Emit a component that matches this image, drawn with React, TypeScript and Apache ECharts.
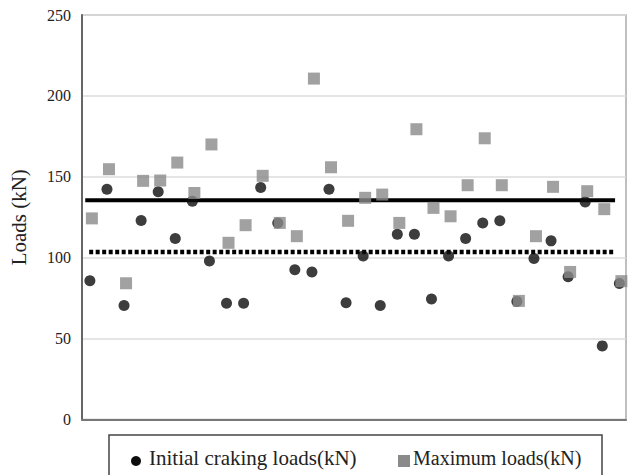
import React, { useEffect, useRef } from "react";
import * as echarts from "echarts";

const specimenIds = Array.from({ length: 32 }, (_, i) => i + 1);
const initialCracking = [85.7, 142.3, 70.5, 123, 140.7, 111.9, 134.9, 98, 71.9, 71.9, 143.4, 121.5, 92.5, 91.2, 142.3, 72.1, 101.1, 70.5, 114.5, 114.5, 74.5, 101.1, 111.9, 121.5, 122.8, 73, 99.5, 110.4, 88.2, 134.5, 45.5, 84];
const maximumLoads = [124.3, 154.7, 84.2, 147.5, 147.7, 158.8, 140, 170, 109.2, 120.1, 150.6, 121.5, 113.3, 210.7, 155.9, 122.8, 137, 139, 121.5, 179.4, 130.8, 125.6, 144.8, 173.8, 144.8, 73.3, 113.3, 143.8, 91.2, 141.1, 130, 85.5];
const meanMaximum = 135.5;
const meanInitial = 103.6;
const solidLineX = [0.67, 31.69];
const dottedLineX = [0.9, 31.6];
const yTicks = [0, 50, 100, 150, 200, 250];
const legendNames = ["Initial craking loads(kN)", "Maximum loads(kN)"];

const FONT = "'Liberation Serif', 'DejaVu Serif', 'Times New Roman', Times, serif";

export default function App() {
  const ref = useRef<HTMLDivElement>(null);
  useEffect(() => {
    document.body.style.margin = "0";
    const chart = echarts.init(ref.current!, null, { renderer: "svg" });
    chart.setOption({
      animation: false,
      backgroundColor: "#fff",
      textStyle: { fontFamily: FONT },
      grid: {
        left: 76,
        right: 3,
        top: 15,
        bottom: 55.5,
        show: true,
        borderColor: "#aaa",
        borderWidth: 1.5,
      },
      xAxis: {
        type: "value",
        min: 0.48,
        max: 32.33,
        axisLabel: { show: false },
        axisTick: { show: false },
        splitLine: { show: false },
        axisLine: { show: true, lineStyle: { color: "#777", width: 2 } },
      },
      yAxis: {
        type: "value",
        min: yTicks[0],
        max: yTicks[yTicks.length - 1],
        interval: 50,
        name: "Loads (kN)",
        nameLocation: "middle",
        nameGap: 53,
        nameTextStyle: { fontFamily: FONT, fontSize: 21, color: "#222" },
        axisLine: { show: true, lineStyle: { color: "#666", width: 2 } },
        axisTick: { show: false },
        axisLabel: { fontFamily: FONT, fontSize: 16, color: "#222", margin: 11 },
        splitLine: { show: true, lineStyle: { color: "#ddd", width: 1.5 } },
      },
      series: [
        {
          type: "line",
          data: solidLineX.map((x) => [x, meanMaximum]),
          symbol: "none",
          lineStyle: { color: "#000", width: 4 },
          z: 2,
        },
        {
          type: "line",
          data: dottedLineX.map((x) => [x, meanInitial]),
          symbol: "none",
          lineStyle: { color: "#000", width: 4.5, type: [4, 2.5], cap: "butt" },
          z: 2,
        },
        {
          type: "scatter",
          name: legendNames[0],
          data: specimenIds.map((id, i) => [id, initialCracking[i]]),
          symbol: "circle",
          symbolSize: 11,
          symbolOffset: [-1, 0],
          itemStyle: { color: "#0d0d0d" },
          z: 3,
        },
        {
          type: "scatter",
          name: legendNames[1],
          data: specimenIds.map((id, i) => [id, maximumLoads[i]]),
          symbol: "rect",
          symbolSize: 12,
          symbolOffset: [1, 0],
          itemStyle: { color: "#8a8a8a" },
          z: 4,
        },
      ],
      graphic: [
        {
          type: "rect",
          shape: { x: 109, y: 435, width: 493, height: 60 },
          style: { fill: "none", stroke: "#444", lineWidth: 1.5 },
        },
        {
          type: "circle",
          shape: { cx: 136, cy: 461, r: 5 },
          style: { fill: "#0d0d0d" },
        },
        {
          type: "text",
          x: 149,
          y: 458,
          style: {
            text: legendNames[0],
            fontFamily: FONT,
            fontSize: 21,
            fill: "#222",
            verticalAlign: "middle",
          },
        },
        {
          type: "rect",
          shape: { x: 398, y: 455, width: 12, height: 12 },
          style: { fill: "#8a8a8a" },
        },
        {
          type: "text",
          x: 413,
          y: 458,
          style: {
            text: legendNames[1],
            fontFamily: FONT,
            fontSize: 20,
            fill: "#222",
            verticalAlign: "middle",
          },
        },
      ],
    });
    return () => chart.dispose();
  }, []);
  return <div ref={ref} style={{ width: 629, height: 475 }} />;
}
